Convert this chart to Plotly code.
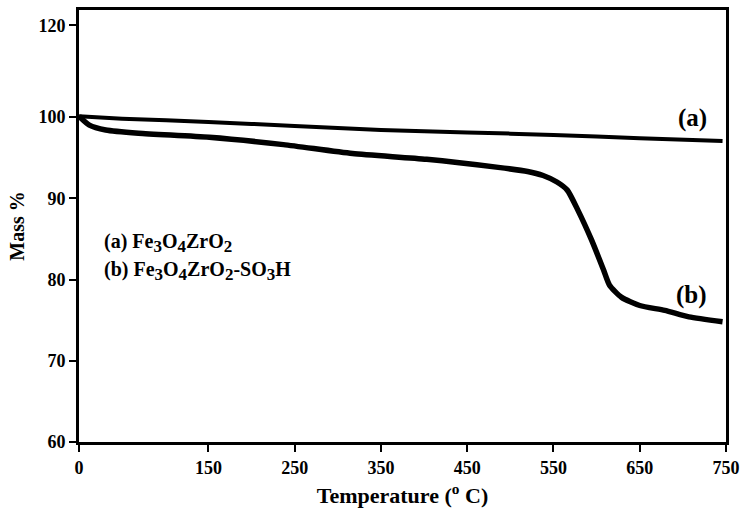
import plotly.graph_objects as go

# Data (temperature in °C, mass in %)
temp_a = [0, 50, 150, 250, 350, 450, 550, 650, 746]
mass_a = [100.1, 99.8, 99.4, 98.9, 98.4, 98.1, 97.8, 97.4, 97.05]

temp_b = [0, 12, 31, 69, 151, 237, 317, 403, 486, 520, 538, 554, 566, 578,
          594, 608, 615, 629, 650, 679, 707, 746]
mass_b = [100.1, 99.0, 98.4, 98.0, 97.5, 96.6, 95.5, 94.8, 93.8, 93.3, 92.8,
          92.0, 91.0, 88.6, 84.9, 81.2, 79.3, 77.8, 76.8, 76.2, 75.4, 74.8]

x_ticks = [0, 150, 250, 350, 450, 550, 650, 750]
y_ticks = [60, 70, 80, 90, 100]
y_top_label = "120"

FONT = "Liberation Serif"
BOLD = dict(family=FONT, size=18, color="black", weight="bold")


def sub(s):
    return "<sub><span style='font-size:17px'>" + s + "</span></sub>"


fig = go.Figure()
fig.add_trace(go.Scatter(x=temp_a, y=mass_a, mode="lines",
                         line=dict(color="black", width=4, shape="spline", smoothing=0.6),
                         showlegend=False))
fig.add_trace(go.Scatter(x=temp_b, y=mass_b, mode="lines",
                         line=dict(color="black", width=5.5, shape="spline", smoothing=0.6),
                         showlegend=False))

ymax = 60 + 432 / 8.125
fig.update_layout(
    width=741, height=517,
    margin=dict(l=79, r=15, t=10, b=75),
    paper_bgcolor="white", plot_bgcolor="white",
    font=dict(family=FONT, size=19, color="black"),
    xaxis=dict(range=[0, 750], tickvals=x_ticks, ticktext=[str(v) for v in x_ticks],
               automargin=False,
               showline=True, linecolor="black", linewidth=3, mirror=True,
               ticks="outside", ticklen=7, tickwidth=2, tickcolor="black",
               showgrid=False, zeroline=False,
               tickfont=BOLD,
               title=dict(text="Temperature (<sup>o</sup> C)", standoff=12,
                          font=dict(family=FONT, size=22, color="black", weight="bold"))),
    yaxis=dict(range=[60, ymax],
               tickvals=y_ticks + [111.3],
               ticktext=[str(v) for v in y_ticks] + [y_top_label],
               automargin=False,
               showline=True, linecolor="black", linewidth=3, mirror=True,
               ticks="outside", ticklen=7, tickwidth=2, tickcolor="black",
               showgrid=False, zeroline=False,
               tickfont=BOLD,
               title=dict(text="Mass %", standoff=9,
                          font=dict(family=FONT, size=20, color="black", weight="bold"))),
)

fig.add_annotation(x=730, y=99.9, text="<b>(a)</b>", showarrow=False,
                   xanchor="right", font=dict(family=FONT, size=25, color="black"))
fig.add_annotation(x=730, y=78.1, text="<b>(b)</b>", showarrow=False,
                   xanchor="right", font=dict(family=FONT, size=25, color="black"))

fig.add_annotation(xref="paper", yref="paper", x=0.035, y=0.46,
                   text="<b>(a) Fe" + sub("3") + "O" + sub("4") + "ZrO" + sub("2") + "</b>",
                   showarrow=False, xanchor="left",
                   font=dict(family=FONT, size=20, color="black"))
fig.add_annotation(xref="paper", yref="paper", x=0.035, y=0.395,
                   text="<b>(b) Fe" + sub("3") + "O" + sub("4") + "ZrO" + sub("2")
                        + "-SO" + sub("3") + "H</b>",
                   showarrow=False, xanchor="left",
                   font=dict(family=FONT, size=20, color="black"))

fig.write_html("out.html",
               config={"displayModeBar": False},
               post_script="document.body.style.margin='0';document.body.style.overflow='hidden';")
